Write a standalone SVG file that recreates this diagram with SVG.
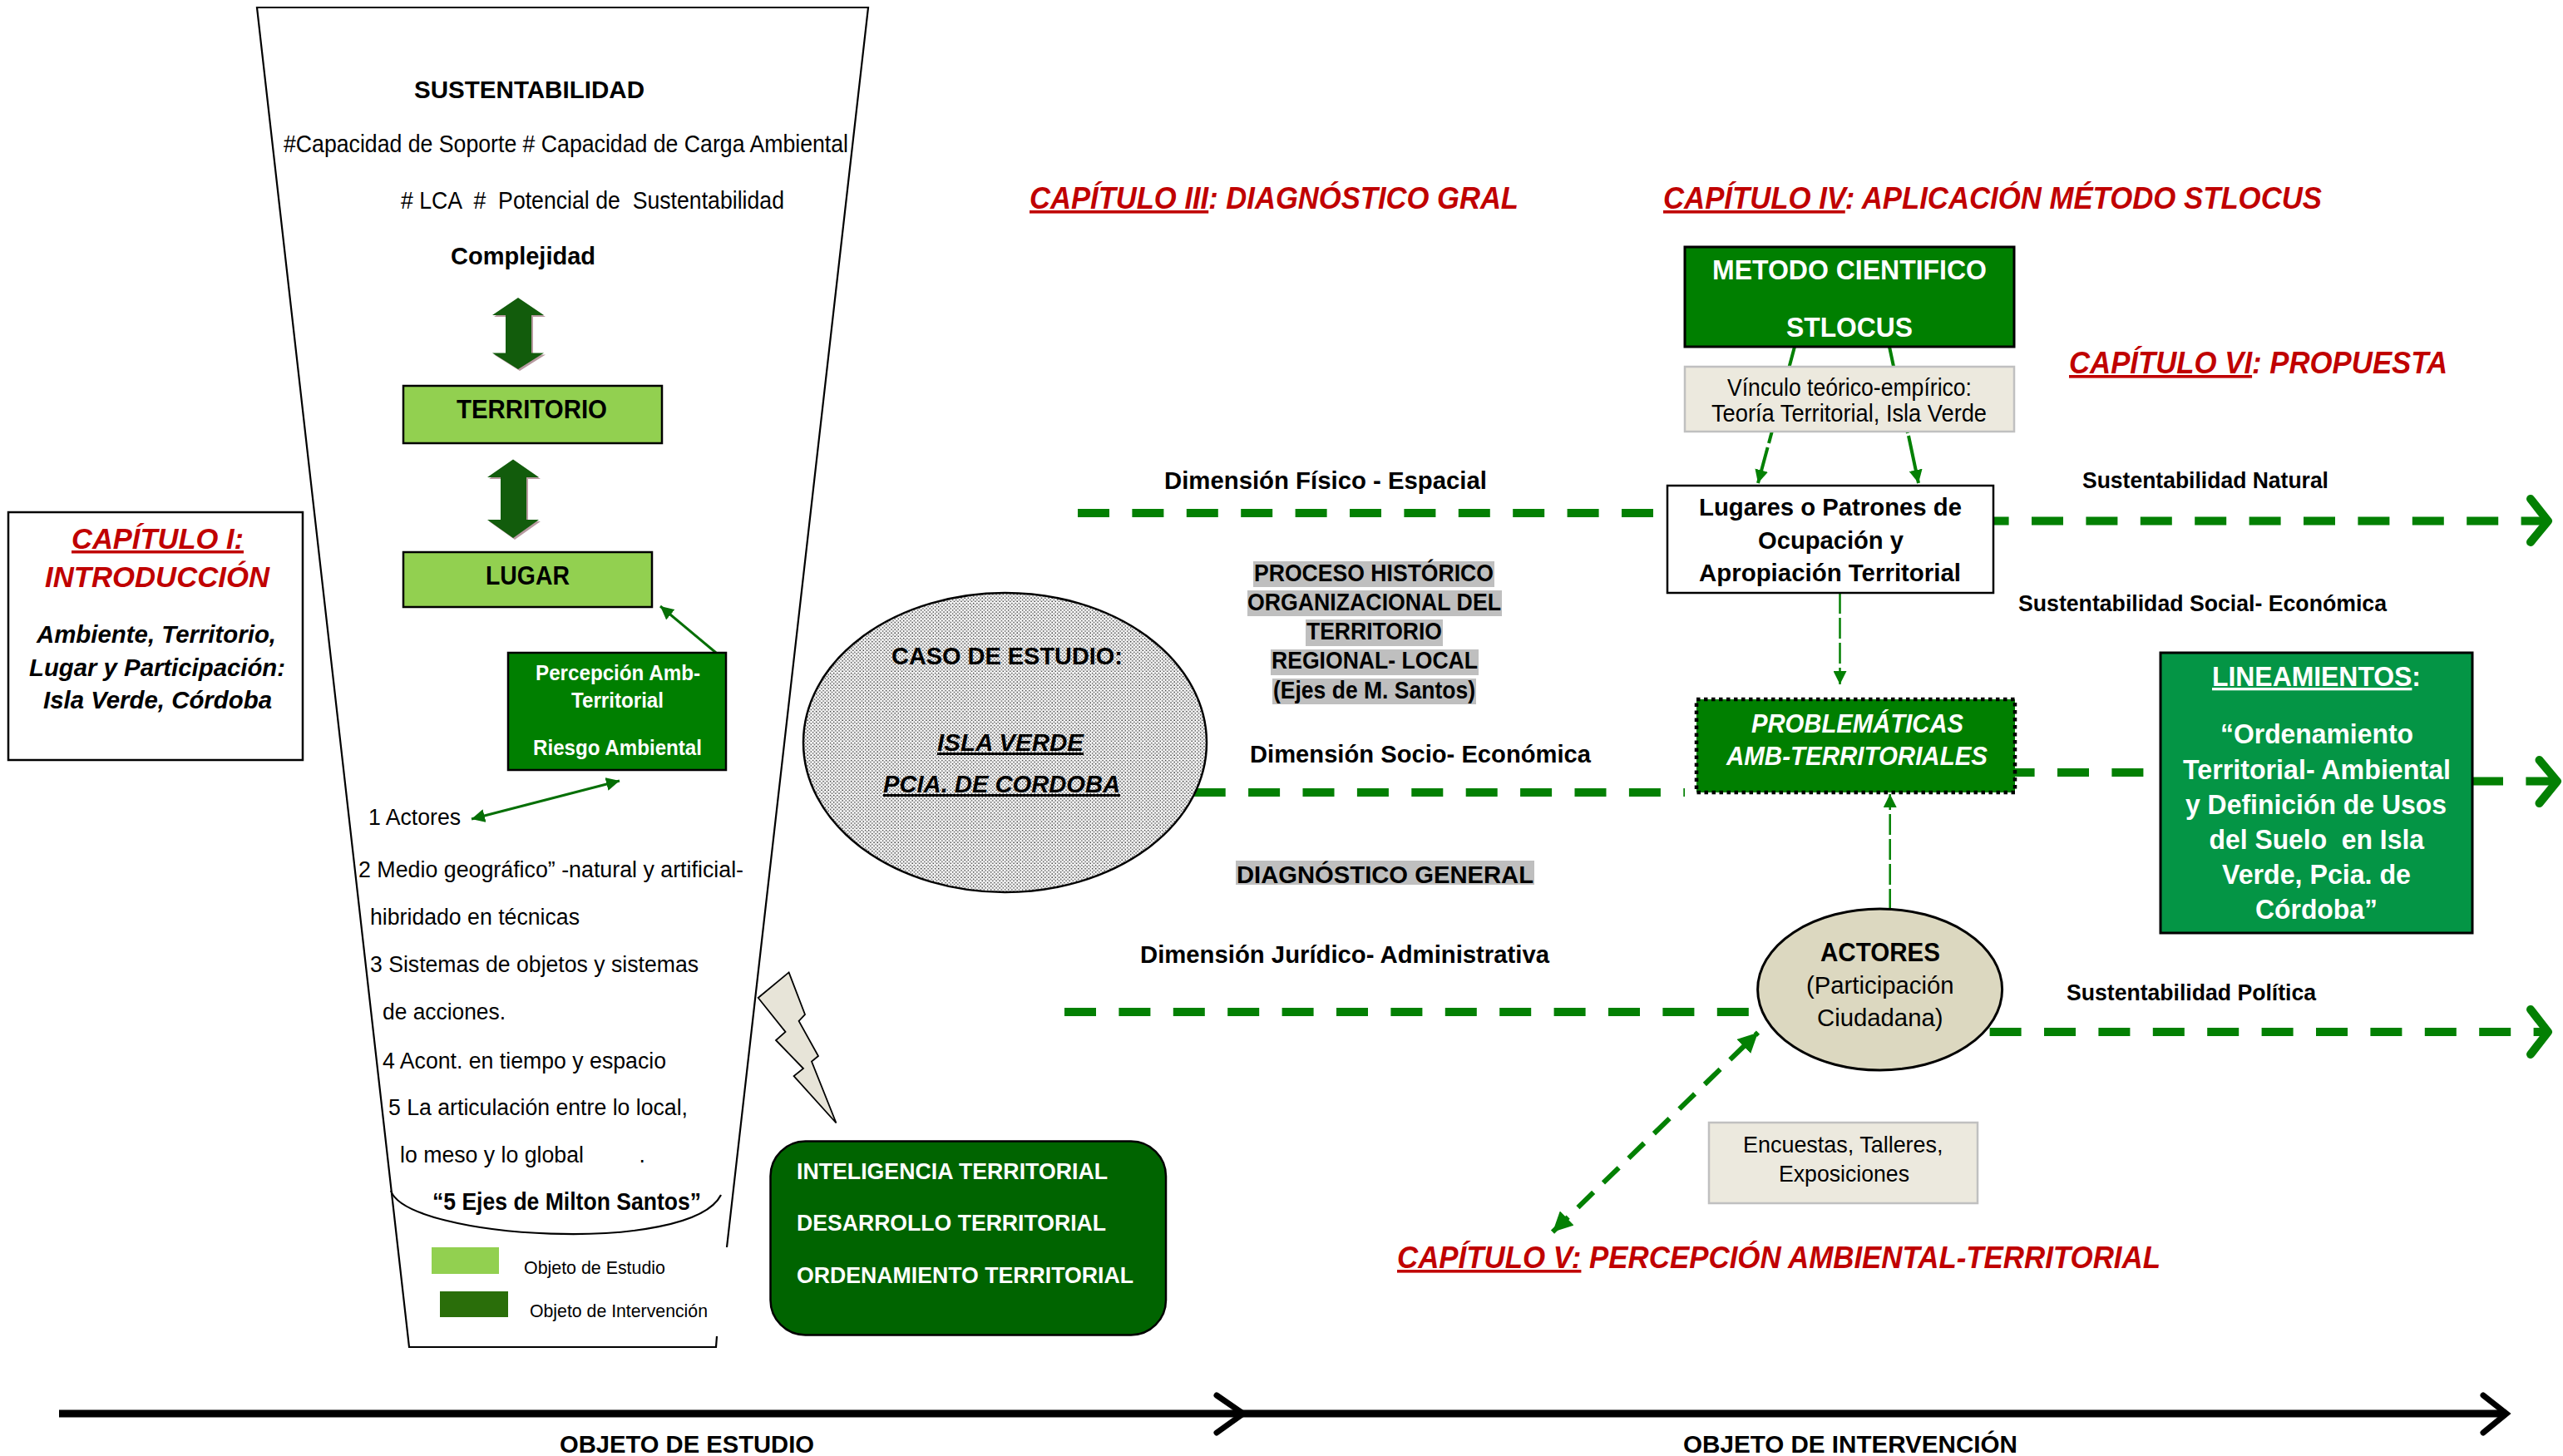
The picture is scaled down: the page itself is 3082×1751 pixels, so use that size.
<svg xmlns="http://www.w3.org/2000/svg" width="3082" height="1751" viewBox="0 0 3082 1751">
<style>
text{font-family:"Liberation Sans",Arial,sans-serif;fill:#000;white-space:pre}
.b{font-weight:bold}
.i{font-style:italic}
.w{fill:#fff}
.r{fill:#c00000;font-weight:bold;font-style:italic;font-size:36px}
.u{text-decoration:underline}
.s26{font-size:27px}.s27{font-size:28px}.s28{font-size:29px}.s29{font-size:30px}.s30{font-size:31px}.s32{font-size:33px}.s21{font-size:22px}.s24{font-size:25px}.s33{font-size:35px}
.big{fill:none;stroke:#038003;stroke-width:10;stroke-dasharray:38 27.4}
.open{fill:none;stroke:#038003;stroke-width:10;stroke-linecap:round;stroke-linejoin:round}
.thin{fill:none;stroke:#056f05;stroke-width:3}
.mid{fill:none;stroke:#038003;stroke-width:2.5;stroke-dasharray:25 5}
.diag{fill:none;stroke:#038003;stroke-width:6;stroke-dasharray:26 16.5}
.link{fill:none;stroke:#038003;stroke-width:4}
.axis{fill:none;stroke:#000;stroke-width:9}
.axh{fill:none;stroke:#000;stroke-width:7;stroke-linecap:round;stroke-linejoin:miter}
.box{stroke:#000;stroke-width:2.5}
.lg{fill:#92d050}
.dg{fill:#007f00}
.cream{fill:#ece9de;stroke:#c0c0c0;stroke-width:2.5}
.hl{fill:#bfbfbf}
</style>
<defs>
<pattern id="dots" patternUnits="userSpaceOnUse" width="4.2" height="4.2">
<rect width="4.2" height="4.2" fill="#f6f6f6"/>
<circle cx="1" cy="1" r="0.75" fill="#2a2a2a"/>
<circle cx="3.1" cy="3.1" r="0.75" fill="#2a2a2a"/>
</pattern>
<marker id="ah" viewBox="0 0 10 10" refX="10" refY="5" markerUnits="userSpaceOnUse" markerWidth="16" markerHeight="16" orient="auto-start-reverse"><path d="M0 0L10 5L0 10Z" fill="#038003"/></marker>
<marker id="ahd" viewBox="0 0 10 10" refX="10" refY="5" markerUnits="userSpaceOnUse" markerWidth="16" markerHeight="16" orient="auto-start-reverse"><path d="M0 0L10 5L0 10Z" fill="#056f05"/></marker>
<marker id="ahb" viewBox="0 0 10 10" refX="10" refY="5" markerUnits="userSpaceOnUse" markerWidth="24" markerHeight="24" orient="auto-start-reverse"><path d="M0 0L10 5L0 10Z" fill="#038003"/></marker>
<path id="dbl1" d="M623 358L654 379H639V424.5H654L623 444L592 424.5H608V379H592Z"/>
<path id="dbl2" d="M617 552.5L648 574H633V625H648L617 647L586 625H602V574H586Z"/>
</defs>
<rect width="3082" height="1751" fill="#fff"/>

<g id="funnel">
<path d="M874 1500L1044 9H309L492 1620H861L862 1607" fill="none" stroke="#000" stroke-width="2.2"/>
<path d="M470 1432C490 1490 830 1510 867 1437" fill="none" stroke="#000" stroke-width="2.2"/>
</g>

<g id="connectors">
<path class="big" d="M1296 617H1990"/>
<path class="big" d="M2377.6 626.6H3064"/>
<path class="open" d="M3043 600L3064 626.6L3043 652"/>
<path class="big" d="M1435.7 953H2026"/>
<path class="big" d="M2408.6 929H2578"/>
<path class="big" d="M2972 939.6H3076"/>
<path class="open" d="M3053.5 914L3075 939.6L3053.5 966"/>
<path class="big" d="M1280 1217H2103"/>
<path class="big" d="M2392.6 1241H3064"/>
<path class="open" d="M3043 1214L3064 1241L3043 1268"/>
<path class="thin" d="M861 785L794 729" marker-end="url(#ahd)"/>
<path class="thin" d="M567 985L745 939" marker-start="url(#ahd)" marker-end="url(#ahd)"/>
<path class="link" d="M2158 417L2127 533M2125.6 538L2114 581" marker-end="url(#ah)"/>
<path class="link" d="M2272 417L2294 521M2295 524L2307 581" marker-end="url(#ah)"/>
<path class="mid" d="M2212.5 713V823" marker-end="url(#ah)"/>
<path class="mid" d="M2272.7 1094V955" marker-end="url(#ah)"/>
<path class="diag" d="M1867 1481.7L2114 1241.7" marker-start="url(#ahb)" marker-end="url(#ahb)"/>
<path class="axis" d="M71 1700H1497"/>
<path class="axh" d="M1463 1678L1495 1700L1463 1723"/>
<path class="axis" d="M1497 1700H3014"/>
<path class="axh" d="M2986 1678L3014 1700L2986 1723"/>
</g>

<g id="funnel-text">
<text class="b s29" x="498" y="118" textLength="277" lengthAdjust="spacingAndGlyphs">SUSTENTABILIDAD</text>
<text class="s28" x="341" y="183" textLength="679" lengthAdjust="spacingAndGlyphs">#Capacidad de Soporte # Capacidad de Carga Ambiental</text>
<text class="s28" x="482" y="251" textLength="461" lengthAdjust="spacingAndGlyphs"># LCA  #  Potencial de  Sustentabilidad</text>
<text class="b s29" x="542" y="318" textLength="174" lengthAdjust="spacingAndGlyphs">Complejidad</text>
<text class="s26" x="443" y="992" textLength="111" lengthAdjust="spacingAndGlyphs">1 Actores</text>
<text class="s26" x="431" y="1055" textLength="463" lengthAdjust="spacingAndGlyphs">2 Medio geográfico” -natural y artificial-</text>
<text class="s26" x="445" y="1112" textLength="252" lengthAdjust="spacingAndGlyphs">hibridado en técnicas</text>
<text class="s26" x="445" y="1169" textLength="395" lengthAdjust="spacingAndGlyphs">3 Sistemas de objetos y sistemas</text>
<text class="s26" x="460" y="1226" textLength="148" lengthAdjust="spacingAndGlyphs">de acciones.</text>
<text class="s26" x="460" y="1285" textLength="341" lengthAdjust="spacingAndGlyphs">4 Acont. en tiempo y espacio</text>
<text class="s26" x="467" y="1341" textLength="360" lengthAdjust="spacingAndGlyphs">5 La articulación entre lo local,</text>
<text class="s26" x="481" y="1398" textLength="295" lengthAdjust="spacingAndGlyphs">lo meso y lo global         .</text>
<text class="b s28" x="520" y="1455" textLength="323" lengthAdjust="spacingAndGlyphs">“5 Ejes de Milton Santos”</text>
</g>

<g id="arrow-complejidad"><use href="#dbl1" x="2" y="2" fill="#b79aa0"/><use href="#dbl1" fill="#125c0c"/></g>
<g id="arrow-territorio-lugar"><use href="#dbl2" x="2" y="2" fill="#b79aa0"/><use href="#dbl2" fill="#125c0c"/></g>

<g id="node-territorio">
<rect class="lg box" x="485" y="464" width="311" height="69"/>
<text class="b s30" x="549" y="503" textLength="181" lengthAdjust="spacingAndGlyphs">TERRITORIO</text>
</g>
<g id="node-lugar">
<rect class="lg box" x="485" y="664" width="299" height="66"/>
<text class="b s30" x="584" y="703" textLength="101" lengthAdjust="spacingAndGlyphs">LUGAR</text>
</g>
<g id="node-percepcion">
<rect class="dg box" x="611" y="785" width="262" height="141"/>
<text class="b w s24" x="644" y="818" textLength="198" lengthAdjust="spacingAndGlyphs">Percepción Amb-</text>
<text class="b w s24" x="687" y="851" textLength="111" lengthAdjust="spacingAndGlyphs">Territorial</text>
<text class="b w s24" x="641" y="908" textLength="203" lengthAdjust="spacingAndGlyphs">Riesgo Ambiental</text>
</g>
<g id="node-capitulo1">
<rect fill="#fff" stroke="#000" stroke-width="2.5" x="10" y="616" width="354" height="298"/>
<text class="r s33" x="86" y="660" textLength="207" lengthAdjust="spacingAndGlyphs"><tspan class="u">CAPÍTULO I:</tspan></text>
<text class="r s33" x="54" y="706" textLength="270" lengthAdjust="spacingAndGlyphs">INTRODUCCIÓN</text>
<text class="b i s29" x="44" y="773" textLength="288" lengthAdjust="spacingAndGlyphs">Ambiente, Territorio,</text>
<text class="b i s29" x="35" y="813" textLength="308" lengthAdjust="spacingAndGlyphs">Lugar y Participación:</text>
<text class="b i s29" x="52" y="852" textLength="275" lengthAdjust="spacingAndGlyphs">Isla Verde, Córdoba</text>
</g>
<g id="legend">
<rect class="lg" x="519" y="1500" width="81" height="32"/>
<rect x="529" y="1553" width="82" height="31" fill="#2a6e0a"/>
<text class="s21" x="630" y="1532" textLength="170" lengthAdjust="spacingAndGlyphs">Objeto de Estudio</text>
<text class="s21" x="637" y="1584" textLength="214" lengthAdjust="spacingAndGlyphs">Objeto de Intervención</text>
</g>
<g id="lightning">
<path d="M948.6 1169.4L968 1220L960.6 1228L984 1270L976 1276.5L1005.5 1350.5L954.6 1294L966 1285L933 1251L944.5 1241L911.7 1200Z" fill="#e7e4d8" stroke="#000" stroke-width="1.8"/>
</g>
<g id="node-inteligencia">
<rect x="926.5" y="1372.5" width="475.5" height="233" rx="42" fill="#006400" stroke="#000" stroke-width="2.5"/>
<text class="b w s26" x="958" y="1418" textLength="374" lengthAdjust="spacingAndGlyphs">INTELIGENCIA TERRITORIAL</text>
<text class="b w s26" x="958" y="1480" textLength="372" lengthAdjust="spacingAndGlyphs">DESARROLLO TERRITORIAL</text>
<text class="b w s26" x="958" y="1543" textLength="405" lengthAdjust="spacingAndGlyphs">ORDENAMIENTO TERRITORIAL</text>
</g>
<g id="node-caso">
<ellipse cx="1208.5" cy="893" rx="242.5" ry="180" fill="url(#dots)" stroke="#000" stroke-width="2.5"/>
<text class="b s29" x="1072" y="799" textLength="278" lengthAdjust="spacingAndGlyphs">CASO DE ESTUDIO:</text>
<text class="b i s29 u" x="1127" y="903" textLength="176" lengthAdjust="spacingAndGlyphs">ISLA VERDE</text>
<text class="b i s29 u" x="1062" y="953" textLength="285" lengthAdjust="spacingAndGlyphs">PCIA. DE CORDOBA</text>
</g>
<g id="node-proceso">
<rect class="hl" x="1507" y="675" width="290" height="31"/>
<rect class="hl" x="1500" y="710" width="306" height="31"/>
<rect class="hl" x="1570" y="745" width="165" height="32"/>
<rect class="hl" x="1528" y="781" width="250" height="31"/>
<rect class="hl" x="1530" y="816" width="245" height="31"/>
<text class="b s28" x="1508" y="699" textLength="288" lengthAdjust="spacingAndGlyphs">PROCESO HISTÓRICO</text>
<text class="b s28" x="1500" y="734" textLength="305" lengthAdjust="spacingAndGlyphs">ORGANIZACIONAL DEL</text>
<text class="b s28" x="1571" y="769" textLength="163" lengthAdjust="spacingAndGlyphs">TERRITORIO</text>
<text class="b s28" x="1529" y="804" textLength="248" lengthAdjust="spacingAndGlyphs">REGIONAL- LOCAL</text>
<text class="b s28" x="1531" y="840" textLength="243" lengthAdjust="spacingAndGlyphs">(Ejes de M. Santos)</text>
</g>
<g id="node-diagnostico">
<rect class="hl" x="1486" y="1035" width="359" height="29"/>
<text class="b s28" x="1487" y="1062" textLength="357" lengthAdjust="spacingAndGlyphs">DIAGNÓSTICO GENERAL</text>
</g>
<g id="labels">
<text class="b s29" x="1400" y="588" textLength="388" lengthAdjust="spacingAndGlyphs">Dimensión Físico - Espacial</text>
<text class="b s29" x="1503" y="917" textLength="410" lengthAdjust="spacingAndGlyphs">Dimensión Socio- Económica</text>
<text class="b s29" x="1371" y="1158" textLength="492" lengthAdjust="spacingAndGlyphs">Dimensión Jurídico- Administrativa</text>
<text class="b s26" x="2504" y="587" textLength="296" lengthAdjust="spacingAndGlyphs">Sustentabilidad Natural</text>
<text class="b s26" x="2427" y="735" textLength="443" lengthAdjust="spacingAndGlyphs">Sustentabilidad Social- Económica</text>
<text class="b s26" x="2485" y="1203" textLength="300" lengthAdjust="spacingAndGlyphs">Sustentabilidad Política</text>
<text class="r" x="1238" y="251" textLength="588" lengthAdjust="spacingAndGlyphs"><tspan class="u">CAPÍTULO III</tspan>: DIAGNÓSTICO GRAL</text>
<text class="r" x="2000" y="251" textLength="792" lengthAdjust="spacingAndGlyphs"><tspan class="u">CAPÍTULO IV</tspan>: APLICACIÓN MÉTODO STLOCUS</text>
<text class="r" x="2488" y="449" textLength="455" lengthAdjust="spacingAndGlyphs"><tspan class="u">CAPÍTULO VI</tspan>: PROPUESTA</text>
<text class="r" x="1680" y="1525" textLength="918" lengthAdjust="spacingAndGlyphs"><tspan class="u">CAPÍTULO V:</tspan> PERCEPCIÓN AMBIENTAL-TERRITORIAL</text>
<text class="b s28" x="673" y="1747" textLength="306" lengthAdjust="spacingAndGlyphs">OBJETO DE ESTUDIO</text>
<text class="b s28" x="2024" y="1747" textLength="402" lengthAdjust="spacingAndGlyphs">OBJETO DE INTERVENCIÓN</text>
</g>
<g id="node-metodo">
<rect class="dg" x="2026" y="297" width="396" height="120" stroke="#000" stroke-width="3"/>
<text class="b w s32" x="2059" y="336" textLength="330" lengthAdjust="spacingAndGlyphs">METODO CIENTIFICO</text>
<text class="b w s32" x="2148" y="405" textLength="152" lengthAdjust="spacingAndGlyphs">STLOCUS</text>
</g>
<g id="node-vinculo">
<rect class="cream" x="2026" y="441" width="396" height="78"/>
<text class="s28" x="2077" y="476" textLength="294" lengthAdjust="spacingAndGlyphs">Vínculo teórico-empírico:</text>
<text class="s28" x="2058" y="507" textLength="331" lengthAdjust="spacingAndGlyphs">Teoría Territorial, Isla Verde</text>
</g>
<g id="node-lugares">
<rect fill="#fff" stroke="#000" stroke-width="2.5" x="2005" y="584" width="392" height="129"/>
<text class="b s29" x="2043" y="620" textLength="316" lengthAdjust="spacingAndGlyphs">Lugares o Patrones de</text>
<text class="b s29" x="2114" y="660" textLength="175" lengthAdjust="spacingAndGlyphs">Ocupación y</text>
<text class="b s29" x="2043" y="699" textLength="315" lengthAdjust="spacingAndGlyphs">Apropiación Territorial</text>
</g>
<g id="node-problematicas">
<rect class="dg" x="2040" y="841" width="383" height="112" stroke="#000" stroke-width="4.5" stroke-dasharray="4.5 4.5"/>
<text class="b i w s30" x="2106" y="881" textLength="255" lengthAdjust="spacingAndGlyphs">PROBLEMÁTICAS</text>
<text class="b i w s30" x="2076" y="920" textLength="314" lengthAdjust="spacingAndGlyphs">AMB-TERRITORIALES</text>
</g>
<g id="node-lineamientos">
<rect x="2598" y="785" width="375" height="337" fill="#049545" stroke="#000" stroke-width="3"/>
<text class="b w s32" x="2660" y="825" textLength="251" lengthAdjust="spacingAndGlyphs"><tspan class="u">LINEAMIENTOS</tspan>:</text>
<text class="b w s32" x="2670" y="894" textLength="232" lengthAdjust="spacingAndGlyphs">“Ordenamiento</text>
<text class="b w s32" x="2625" y="937" textLength="322" lengthAdjust="spacingAndGlyphs">Territorial- Ambiental</text>
<text class="b w s32" x="2628" y="979" textLength="314" lengthAdjust="spacingAndGlyphs">y Definición de Usos</text>
<text class="b w s32" x="2656.5" y="1021" textLength="258.5" lengthAdjust="spacingAndGlyphs">del Suelo  en Isla</text>
<text class="b w s32" x="2672" y="1063" textLength="227" lengthAdjust="spacingAndGlyphs">Verde, Pcia. de</text>
<text class="b w s32" x="2712" y="1105" textLength="147" lengthAdjust="spacingAndGlyphs">Córdoba”</text>
</g>
<g id="node-actores">
<ellipse cx="2260.6" cy="1190" rx="147" ry="97" fill="#dcd8c0" stroke="#000" stroke-width="3"/>
<text class="b s30" x="2189" y="1156" textLength="144" lengthAdjust="spacingAndGlyphs">ACTORES</text>
<text class="s29" x="2172" y="1195" textLength="177.5" lengthAdjust="spacingAndGlyphs">(Participación</text>
<text class="s29" x="2185" y="1234" textLength="151.5" lengthAdjust="spacingAndGlyphs">Ciudadana)</text>
</g>
<g id="node-encuestas">
<rect class="cream" x="2055" y="1350" width="323" height="97"/>
<text class="s27" x="2096" y="1386" textLength="240.5" lengthAdjust="spacingAndGlyphs">Encuestas, Talleres,</text>
<text class="s27" x="2139" y="1421" textLength="157" lengthAdjust="spacingAndGlyphs">Exposiciones</text>
</g>
</svg>
